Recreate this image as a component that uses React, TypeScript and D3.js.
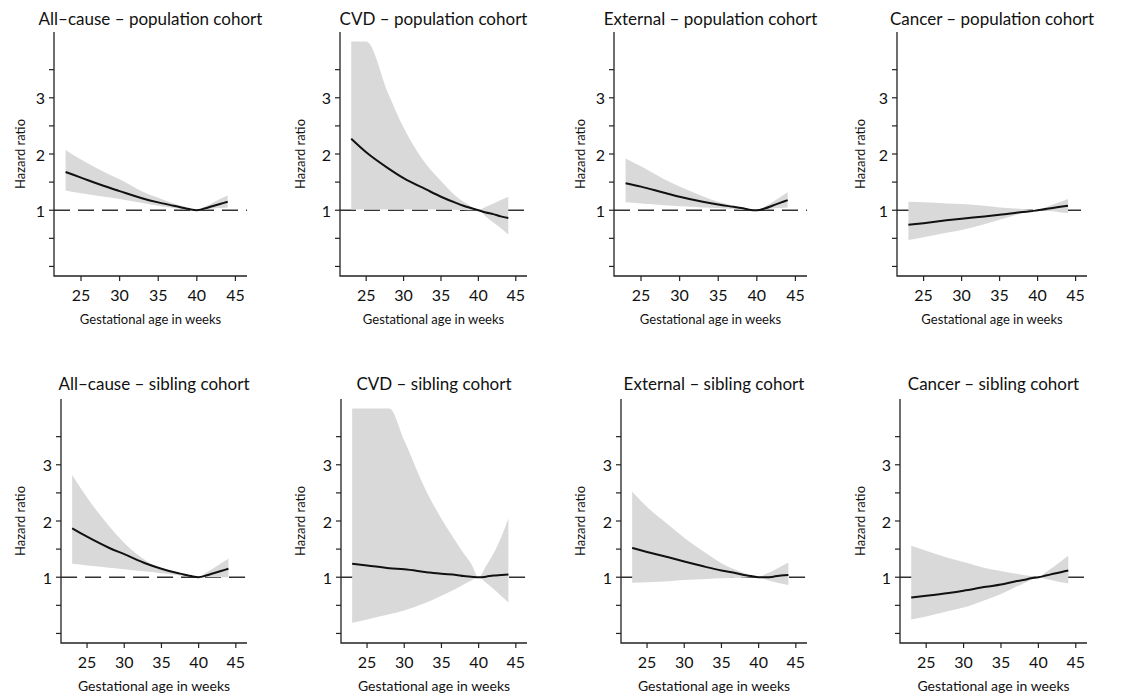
import * as React from "react";
import * as d3 from "d3";

// gestational age (weeks) at which the curves were read
const ages = [23, 25, 28, 30, 33, 35, 37, 38, 39, 40, 41, 42, 43, 44];

const titles = [
  "All\u2013cause \u2013 population cohort",
  "CVD \u2013 population cohort",
  "External \u2013 population cohort",
  "Cancer \u2013 population cohort",
  "All\u2013cause \u2013 sibling cohort",
  "CVD \u2013 sibling cohort",
  "External \u2013 sibling cohort",
  "Cancer \u2013 sibling cohort",
];

const xTicks = [25, 30, 35, 40, 45];
const yTicks = [0, 0.5, 1, 1.5, 2, 2.5, 3, 3.5];
const yLabelled = [1, 2, 3];

// population cohort
const allCausePopHr = [1.68, 1.58, 1.43, 1.34, 1.21, 1.14, 1.08, 1.05, 1.02, 1.0, 1.03, 1.07, 1.11, 1.15];
const allCausePopLo = [1.35, 1.3, 1.24, 1.2, 1.13, 1.08, 1.04, 1.02, 1.01, 1.0, 1.01, 1.03, 1.04, 1.05];
const allCausePopHi = [2.07, 1.9, 1.68, 1.55, 1.33, 1.22, 1.12, 1.08, 1.04, 1.0, 1.06, 1.13, 1.2, 1.26];

const cvdPopHr = [2.27, 2.03, 1.74, 1.57, 1.37, 1.24, 1.13, 1.08, 1.04, 1.0, 0.96, 0.93, 0.89, 0.86];
const cvdPopLo = [1.015, 1.015, 1.015, 1.015, 1.015, 1.015, 1.01, 1.005, 1.0, 1.0, 0.89, 0.78, 0.68, 0.57];
const cvdPopHi = [4.0, 4.0, 3.06, 2.47, 1.82, 1.52, 1.25, 1.15, 1.07, 1.0, 1.06, 1.12, 1.18, 1.24];

const externalPopHr = [1.48, 1.42, 1.31, 1.24, 1.15, 1.1, 1.06, 1.04, 1.01, 1.0, 1.03, 1.08, 1.13, 1.18];
const externalPopLo = [1.14, 1.12, 1.09, 1.07, 1.05, 1.04, 1.02, 1.01, 1.0, 1.0, 1.01, 1.03, 1.04, 1.05];
const externalPopHi = [1.92, 1.78, 1.55, 1.42, 1.25, 1.15, 1.08, 1.05, 1.02, 1.0, 1.06, 1.14, 1.23, 1.32];

const cancerPopHr = [0.74, 0.77, 0.82, 0.85, 0.89, 0.92, 0.95, 0.97, 0.98, 1.0, 1.02, 1.04, 1.06, 1.08];
const cancerPopLo = [0.47, 0.52, 0.6, 0.65, 0.75, 0.83, 0.91, 0.95, 0.98, 1.0, 0.99, 0.98, 0.96, 0.95];
const cancerPopHi = [1.15, 1.14, 1.12, 1.11, 1.08, 1.05, 1.03, 1.02, 1.01, 1.0, 1.05, 1.1, 1.15, 1.2];

// sibling cohort
const allCauseSibHr = [1.87, 1.72, 1.52, 1.41, 1.24, 1.15, 1.08, 1.05, 1.02, 1.0, 1.03, 1.07, 1.11, 1.15];
const allCauseSibLo = [1.24, 1.21, 1.17, 1.14, 1.1, 1.07, 1.04, 1.02, 1.01, 1.0, 1.0, 1.0, 1.0, 1.0];
const allCauseSibHi = [2.82, 2.42, 1.9, 1.61, 1.29, 1.15, 1.07, 1.04, 1.02, 1.0, 1.08, 1.16, 1.25, 1.33];

const cvdSibHr = [1.24, 1.21, 1.16, 1.14, 1.09, 1.06, 1.04, 1.02, 1.01, 1.0, 1.01, 1.03, 1.04, 1.05];
const cvdSibLo = [0.19, 0.25, 0.34, 0.41, 0.55, 0.67, 0.8, 0.87, 0.94, 1.0, 0.9, 0.79, 0.67, 0.55];
const cvdSibHi = [4.0, 4.0, 4.0, 3.43, 2.52, 2.04, 1.62, 1.42, 1.24, 1.0, 1.2, 1.42, 1.7, 2.05];

const externalSibHr = [1.52, 1.45, 1.35, 1.28, 1.18, 1.12, 1.07, 1.04, 1.02, 1.0, 1.0, 1.01, 1.03, 1.04];
const externalSibLo = [0.9, 0.91, 0.93, 0.95, 0.97, 0.98, 0.99, 0.99, 1.0, 1.0, 0.96, 0.92, 0.89, 0.86];
const externalSibHi = [2.52, 2.25, 1.92, 1.7, 1.42, 1.25, 1.13, 1.08, 1.03, 1.0, 1.06, 1.12, 1.19, 1.26];

const cancerSibHr = [0.64, 0.67, 0.72, 0.76, 0.83, 0.87, 0.93, 0.95, 0.98, 1.0, 1.03, 1.06, 1.09, 1.12];
const cancerSibLo = [0.25, 0.3, 0.4, 0.46, 0.6, 0.7, 0.83, 0.89, 0.95, 1.0, 0.97, 0.94, 0.91, 0.89];
const cancerSibHi = [1.56, 1.47, 1.34, 1.27, 1.16, 1.11, 1.06, 1.04, 1.02, 1.0, 1.09, 1.18, 1.28, 1.38];

const series = [
  [allCausePopHr, allCausePopLo, allCausePopHi],
  [cvdPopHr, cvdPopLo, cvdPopHi],
  [externalPopHr, externalPopLo, externalPopHi],
  [cancerPopHr, cancerPopLo, cancerPopHi],
  [allCauseSibHr, allCauseSibLo, allCauseSibHi],
  [cvdSibHr, cvdSibLo, cvdSibHi],
  [externalSibHr, externalSibLo, externalSibHi],
  [cancerSibHr, cancerSibLo, cancerSibHi],
];

const FONT = "Lato, 'Noto Sans', sans-serif";
const leftInset = [54, 60, 54, 57, 61, 61, 61, 60];
const rowY = [
  [276, 32],
  [643, 399],
];

function Panel(props: { i: number }) {
  const i = props.i;
  const col = i % 4;
  const row = Math.floor(i / 4);
  const colX = col * 280;
  const left = colX + leftInset[i];
  const right = colX + 247;
  const [bottom, top] = rowY[row];
  const [hr, lo, hi] = series[i];

  const x = d3.scaleLinear().domain([21.5, 46.5]).range([left, right]);
  const y = d3.scaleLinear().domain([-0.17, 4.17]).range([bottom, top]);

  const pts = ages.map((a, k) => ({ a, hr: hr[k], lo: lo[k], hi: hi[k] }));

  const band = d3
    .area<any>()
    .x((d) => x(d.a))
    .y0((d) => y(d.lo))
    .y1((d) => y(d.hi))
    .curve(d3.curveMonotoneX);

  const line = d3
    .line<any>()
    .x((d) => x(d.a))
    .y((d) => y(d.hr))
    .curve(d3.curveMonotoneX);

  const labSize = row === 0 ? 13 : 14;

  return (
    <g>
      <text
        x={(left + right) / 2}
        y={row === 0 ? 25 : 390}
        textAnchor="middle"
        fontSize={17}
        fill="#111"
      >
        {titles[i]}
      </text>
      {/* reference line at HR = 1, drawn under the band */}
      <line
        x1={left}
        x2={right}
        y1={y(1)}
        y2={y(1)}
        stroke="#333"
        strokeWidth={1.5}
        strokeDasharray="16,8"
      />
      <path d={band(pts) || ""} fill="#d9d9d9" stroke="none" />
      <path d={line(pts) || ""} fill="none" stroke="#111" strokeWidth={2} />
      {/* L-shaped axes */}
      <path
        d={`M${left},${top}V${bottom}H${right}`}
        fill="none"
        stroke="#222"
        strokeWidth={1.3}
      />
      {yTicks.map((t) => (
        <line key={t} x1={left - 5} x2={left} y1={y(t)} y2={y(t)} stroke="#222" strokeWidth={1.2} />
      ))}
      {yLabelled.map((t) => (
        <text
          key={t}
          x={left - 9}
          y={y(t)}
          textAnchor="end"
          dominantBaseline="central"
          fontSize={16}
          fill="#111"
        >
          {t}
        </text>
      ))}
      {xTicks.map((t) => (
        <g key={t} transform={`translate(${x(t)}, ${bottom})`}>
          <line y1={0} y2={5} stroke="#222" strokeWidth={1.2} />
          <text y={25} textAnchor="middle" fontSize={16} fill="#111">
            {t}
          </text>
        </g>
      ))}
      <text
        x={(left + right) / 2}
        y={bottom + 48}
        textAnchor="middle"
        fontSize={labSize}
        fill="#111"
      >
        Gestational age in weeks
      </text>
      <text
        transform={`translate(${colX + 20}, ${y(2)}) rotate(-90)`}
        textAnchor="middle"
        dominantBaseline="central"
        fontSize={13}
        fill="#111"
      >
        Hazard ratio
      </text>
    </g>
  );
}

export default function App() {
  return (
    <svg
      width={1122}
      height={696}
      style={{ position: "absolute", left: 0, top: 0, background: "#fff" }}
      fontFamily={FONT}
    >
      <rect width={1122} height={696} fill="#fff" />
      {titles.map((t, i) => (
        <Panel key={t} i={i} />
      ))}
    </svg>
  );
}
